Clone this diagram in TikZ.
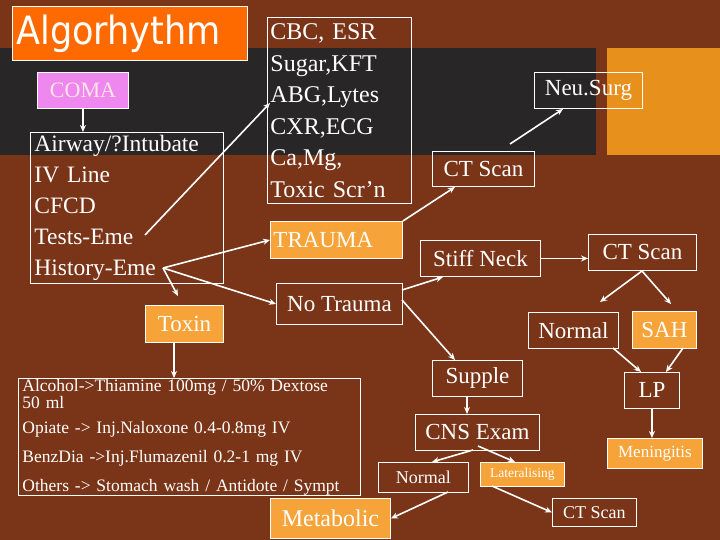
\documentclass[tikz,border=0pt]{standalone}
\usepackage{fontspec}
\setmainfont{Liberation Serif}
\newfontfamily\titlefont{DejaVu Sans Condensed}
\usetikzlibrary{arrows.meta,calc}
\definecolor{bg}{HTML}{7A3518}
\definecolor{band}{HTML}{282626}
\definecolor{sq}{HTML}{E8901C}
\definecolor{tit}{HTML}{FF6A00}
\definecolor{org}{HTML}{F6A43A}
\definecolor{pinkc}{HTML}{EE88EE}
\tikzset{
  bx/.style={draw=white,line width=0.9pt,text=white,anchor=north west,inner sep=0pt,align=left},
  fl/.style={bx,fill=org},
  ar/.style={draw=white,line width=1.6pt,-{Stealth[length=7pt,width=6pt]}},
  fs/.style={font=\fontsize{#1}{#1}\selectfont},
  wh/.style 2 args={minimum width=#1pt,minimum height=#2pt}
}
\begin{document}
\begin{tikzpicture}[x=1pt,y=-1pt]
\fill[bg] (0,0) rectangle (720,540);
\useasboundingbox (0,0) rectangle (720,540);
\fill[band] (0,48) rectangle (596,155);
\fill[sq] (607,48) rectangle (720,155);
\node[bx,fill=tit,wh={235}{54},font=\titlefont\fontsize{39}{39}\selectfont,text width=227pt,inner xsep=4pt] (title) at (12,6) {Algorhythm};
\node[bx,fill=pinkc,wh={91}{36},fs=22,text=pink!40,align=center] (coma) at (37,72) {COMA};
\node[bx,wh={193}{151},text width=185pt,inner xsep=4pt,font=\fontsize{23.5}{31}\selectfont] (airway) at (30,132) {Airway/?Intubate\\IV Line\\CFCD\\Tests-Eme\\History-Eme};
\node[bx,wh={144}{186},text width=138pt,inner xsep=3pt,font=\fontsize{24}{31.5}\selectfont] (labs) at (267,17) {CBC, ESR\\Sugar,KFT\\ABG,Lytes\\CXR,ECG\\Ca,Mg,\\Toxic Scr’n};
\node[bx,wh={108}{36},fs=23,align=center] (neu) at (534,72) {Neu.Surg};
\node[bx,wh={102}{35},fs=23,align=center] (ct1) at (432,151) {CT Scan};
\node[fl,wh={132}{37},fs=23,text width=126pt,inner xsep=3pt] (trauma) at (270,221) {TRAUMA};
\node[bx,wh={120}{36},fs=23,align=center] (stiff) at (420,240) {Stiff Neck};
\node[bx,wh={108}{36},fs=23,align=center] (ct2) at (588,234) {CT Scan};
\node[bx,wh={126}{41},fs=23,align=center] (notr) at (276,283) {No Trauma};
\node[fl,wh={78}{37},fs=23,align=center] (toxin) at (145,305) {Toxin};
\node[bx,wh={342}{117},text width=334pt,inner xsep=4pt,font=\fontsize{17.5}{12}\selectfont] (list) at (18,378) {Alcohol->Thiamine 100mg / 50\% Dextose\\50 ml\\[12pt]Opiate -> Inj.Naloxone 0.4-0.8mg IV\\[12pt]BenzDia ->Inj.Flumazenil 0.2-1 mg IV\\[12pt]Others -> Stomach wash / Antidote / Sympt};
\node[bx,wh={90}{36},fs=23,align=center] (norm1) at (528,312) {Normal};
\node[fl,wh={64}{37},fs=23,align=center] (sah) at (632,311) {SAH};
\node[bx,wh={90}{36},fs=23,align=center] (supple) at (432,360) {Supple};
\node[bx,wh={55}{36},fs=23,align=center] (lp) at (624,372) {LP};
\node[bx,wh={124}{36},fs=23,align=center] (cns) at (415,414) {CNS Exam};
\node[fl,wh={95}{30},fs=17,align=center] (men) at (607,438) {Meningitis};
\node[bx,wh={90}{30},fs=18,align=center] (norm2) at (378,462) {Normal};
\node[fl,wh={84}{24},fs=13.5,align=center] (lat) at (480,462) {Lateralising};
\node[fl,wh={120}{40},fs=24,align=center] (meta) at (270,498) {Metabolic};
\node[bx,wh={84}{28},fs=18,align=center] (ct3) at (552,498) {CT Scan};
\coordinate (tests) at (145,235);
\coordinate (hist) at (163,268);
\draw[ar] (coma.south) -- (coma.south |- airway.north);
\draw[ar] (tests) -- (270,103);
\draw[ar] (hist) -- (trauma.west);
\draw[ar] (hist) -- (notr.west);
\draw[ar] (hist) -- (178,296);
\draw[ar] (trauma.north east) -- (455,187);
\draw[ar] (510,144) -- (563,109);
\draw[ar] (402,290) -- (443,277);
\draw[ar] (stiff.east) -- (ct2.west |- stiff.east);
\draw[ar] (642,271) -- (600,302);
\draw[ar] (642,271) -- (671,304);
\draw[ar] (402,300) -- (455,360);
\draw[ar] (613,348) -- (641,372);
\draw[ar] (683,348) -- (666,372);
\draw[ar] (lp.south) -- (lp.south |- men.north);
\draw[ar] (467,396) -- (467,414);
\draw[ar] (174,342) -- (174,378);
\draw[ar] (473,450) -- (432,462);
\draw[ar] (478,446) -- (515,462);
\draw[ar] (448,492) -- (meta.east);
\draw[ar] (492,486) -- (ct3.west);
\end{tikzpicture}
\end{document}
